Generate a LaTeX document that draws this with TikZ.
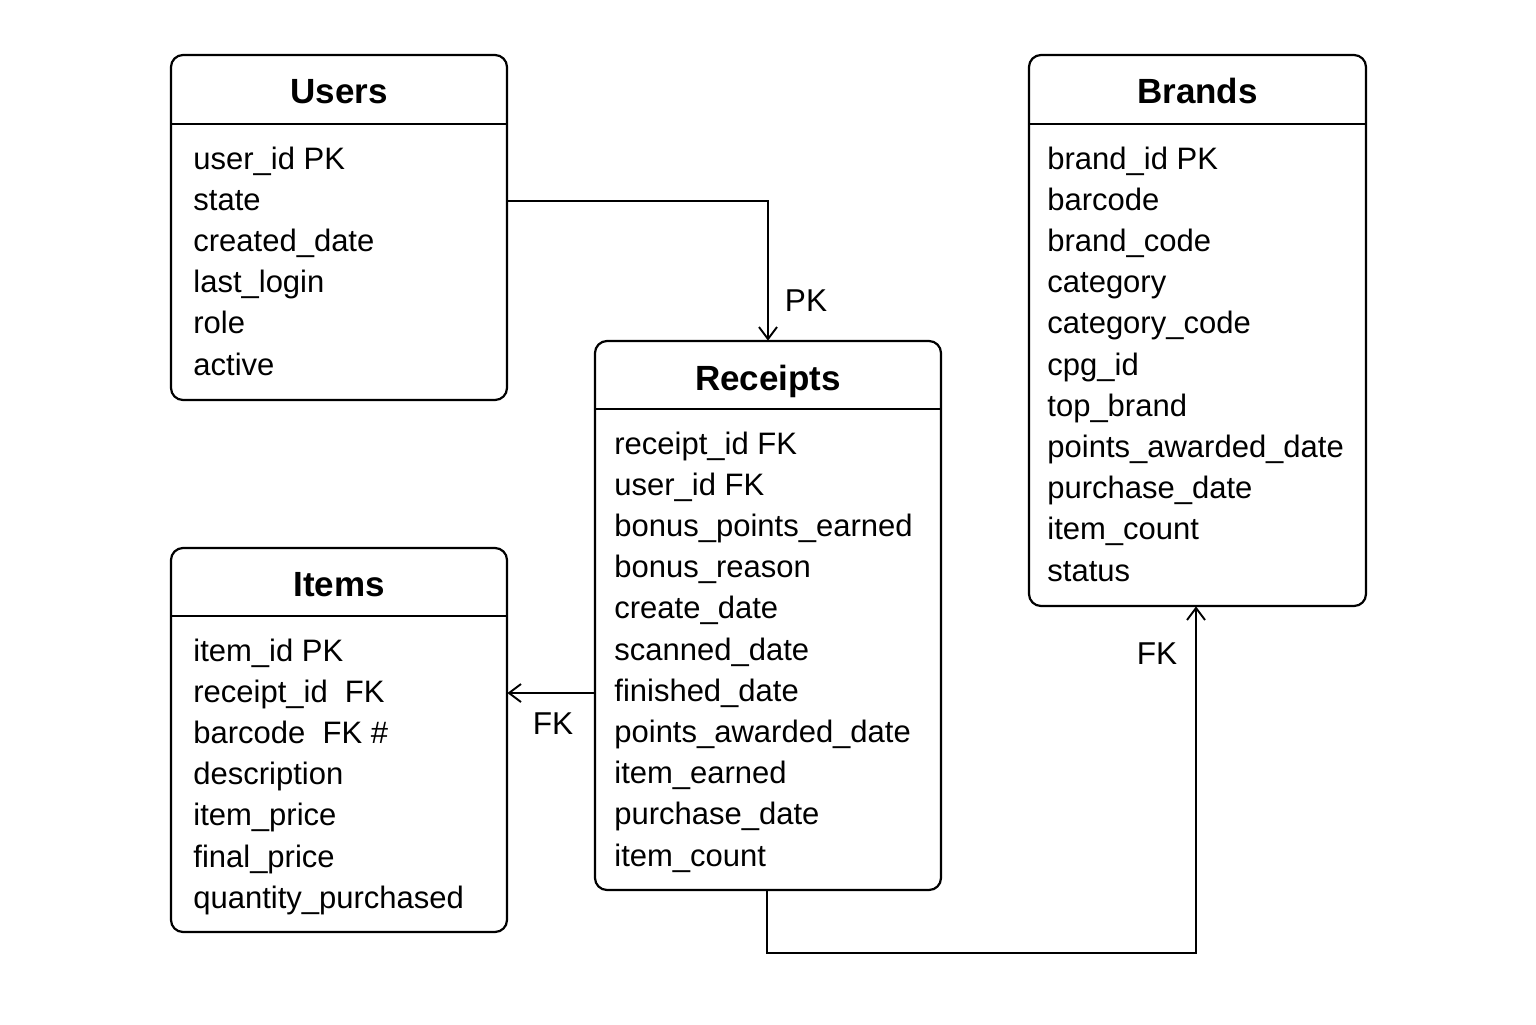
\documentclass[tikz,border=0pt]{standalone}
\usepackage{fontspec}
\setmainfont{Liberation Sans}
\usetikzlibrary{arrows.meta}
\tikzset{
  tbl/.style={draw=black, line width=1.1pt, rounded corners=6pt, fill=white},
  sep/.style={line width=1.1pt},
  row/.style={anchor=base west, inner sep=0pt, font=\fontsize{15.5pt}{18pt}\selectfont},
  ttl/.style={anchor=base, inner sep=0pt, font=\fontsize{17.5pt}{20pt}\selectfont\bfseries},
  lbl/.style={anchor=base, inner sep=0pt, font=\fontsize{15.8pt}{18pt}\selectfont},
  conn/.style={line width=0.95pt, -{Straight Barb[length=6pt,width=9pt,line width=0.95pt]}},
}
\begin{document}
\begin{tikzpicture}[x=0.5pt,y=-0.5pt]
\useasboundingbox (0,0) rectangle (1536,1024);
% Users
\draw[tbl] (171,55) rectangle (507,400);
\node (users) [inner sep=0pt, minimum width=168pt, minimum height=172.5pt] at (339,227.5) {};
\draw[sep] (171,124) -- (507,124);
\node[ttl] (ut) at (339,103) {Users};
\foreach \t [count=\i] in {user\_id PK, state, created\_date, last\_login, role, active}
  \node[row] (u\i) at (193,{158+41.2*(\i-1)+11}) {\t};
% Brands
\draw[tbl] (1029,55) rectangle (1366,606);
\node (brands) [inner sep=0pt, minimum width=168.5pt, minimum height=275.5pt] at (1197.5,330.5) {};
\draw[sep] (1029,124) -- (1366,124);
\node[ttl] (bt) at (1197.5,103) {Brands};
\foreach \t [count=\i] in {brand\_id PK, barcode, brand\_code, category, category\_code, cpg\_id, top\_brand, points\_awarded\_date, purchase\_date, item\_count, status}
  \node[row] (b\i) at (1047,{158+41.2*(\i-1)+11}) {\t};
% Receipts
\draw[tbl] (595,341) rectangle (941,890);
\node (rec) [inner sep=0pt, minimum width=173pt, minimum height=274.5pt] at (768,615.5) {};
\draw[sep] (595,409) -- (941,409);
\node[ttl] (rt) at (768,390) {Receipts};
\foreach \t [count=\i] in {receipt\_id FK, user\_id FK, bonus\_points\_earned, bonus\_reason, create\_date, scanned\_date, finished\_date, points\_awarded\_date, item\_earned, purchase\_date, item\_count}
  \node[row] (r\i) at (614,{443+41.2*(\i-1)+11}) {\t};
% Items
\draw[tbl] (171,548) rectangle (507,932);
\node (items) [inner sep=0pt, minimum width=168pt, minimum height=192pt] at (339,740) {};
\draw[sep] (171,616) -- (507,616);
\node[ttl] (it) at (339,596) {Items};
\foreach \t [count=\i] in {item\_id PK, receipt\_id\ \ FK, barcode\ \ FK \#, description, item\_price, final\_price, quantity\_purchased}
  \node[row] (i\i) at (193,{650+41.2*(\i-1)+11}) {\t};
% connectors
\coordinate (ua) at (507,201);
\draw[conn] (ua) -| (rec.north);
\node[lbl] (pk) at (806,311) {PK};
\coordinate (ra) at (595,693);
\draw[conn] (ra) -- (ra -| items.east);
\node[lbl] (fk1) at (553,734) {FK};
\coordinate (rb) at (767,953);
\draw[conn] (rec.south -| rb) -- (rb) -| (brands.south -| 1196,0);
\node[lbl] (fk2) at (1157,664) {FK};
\end{tikzpicture}
\end{document}
